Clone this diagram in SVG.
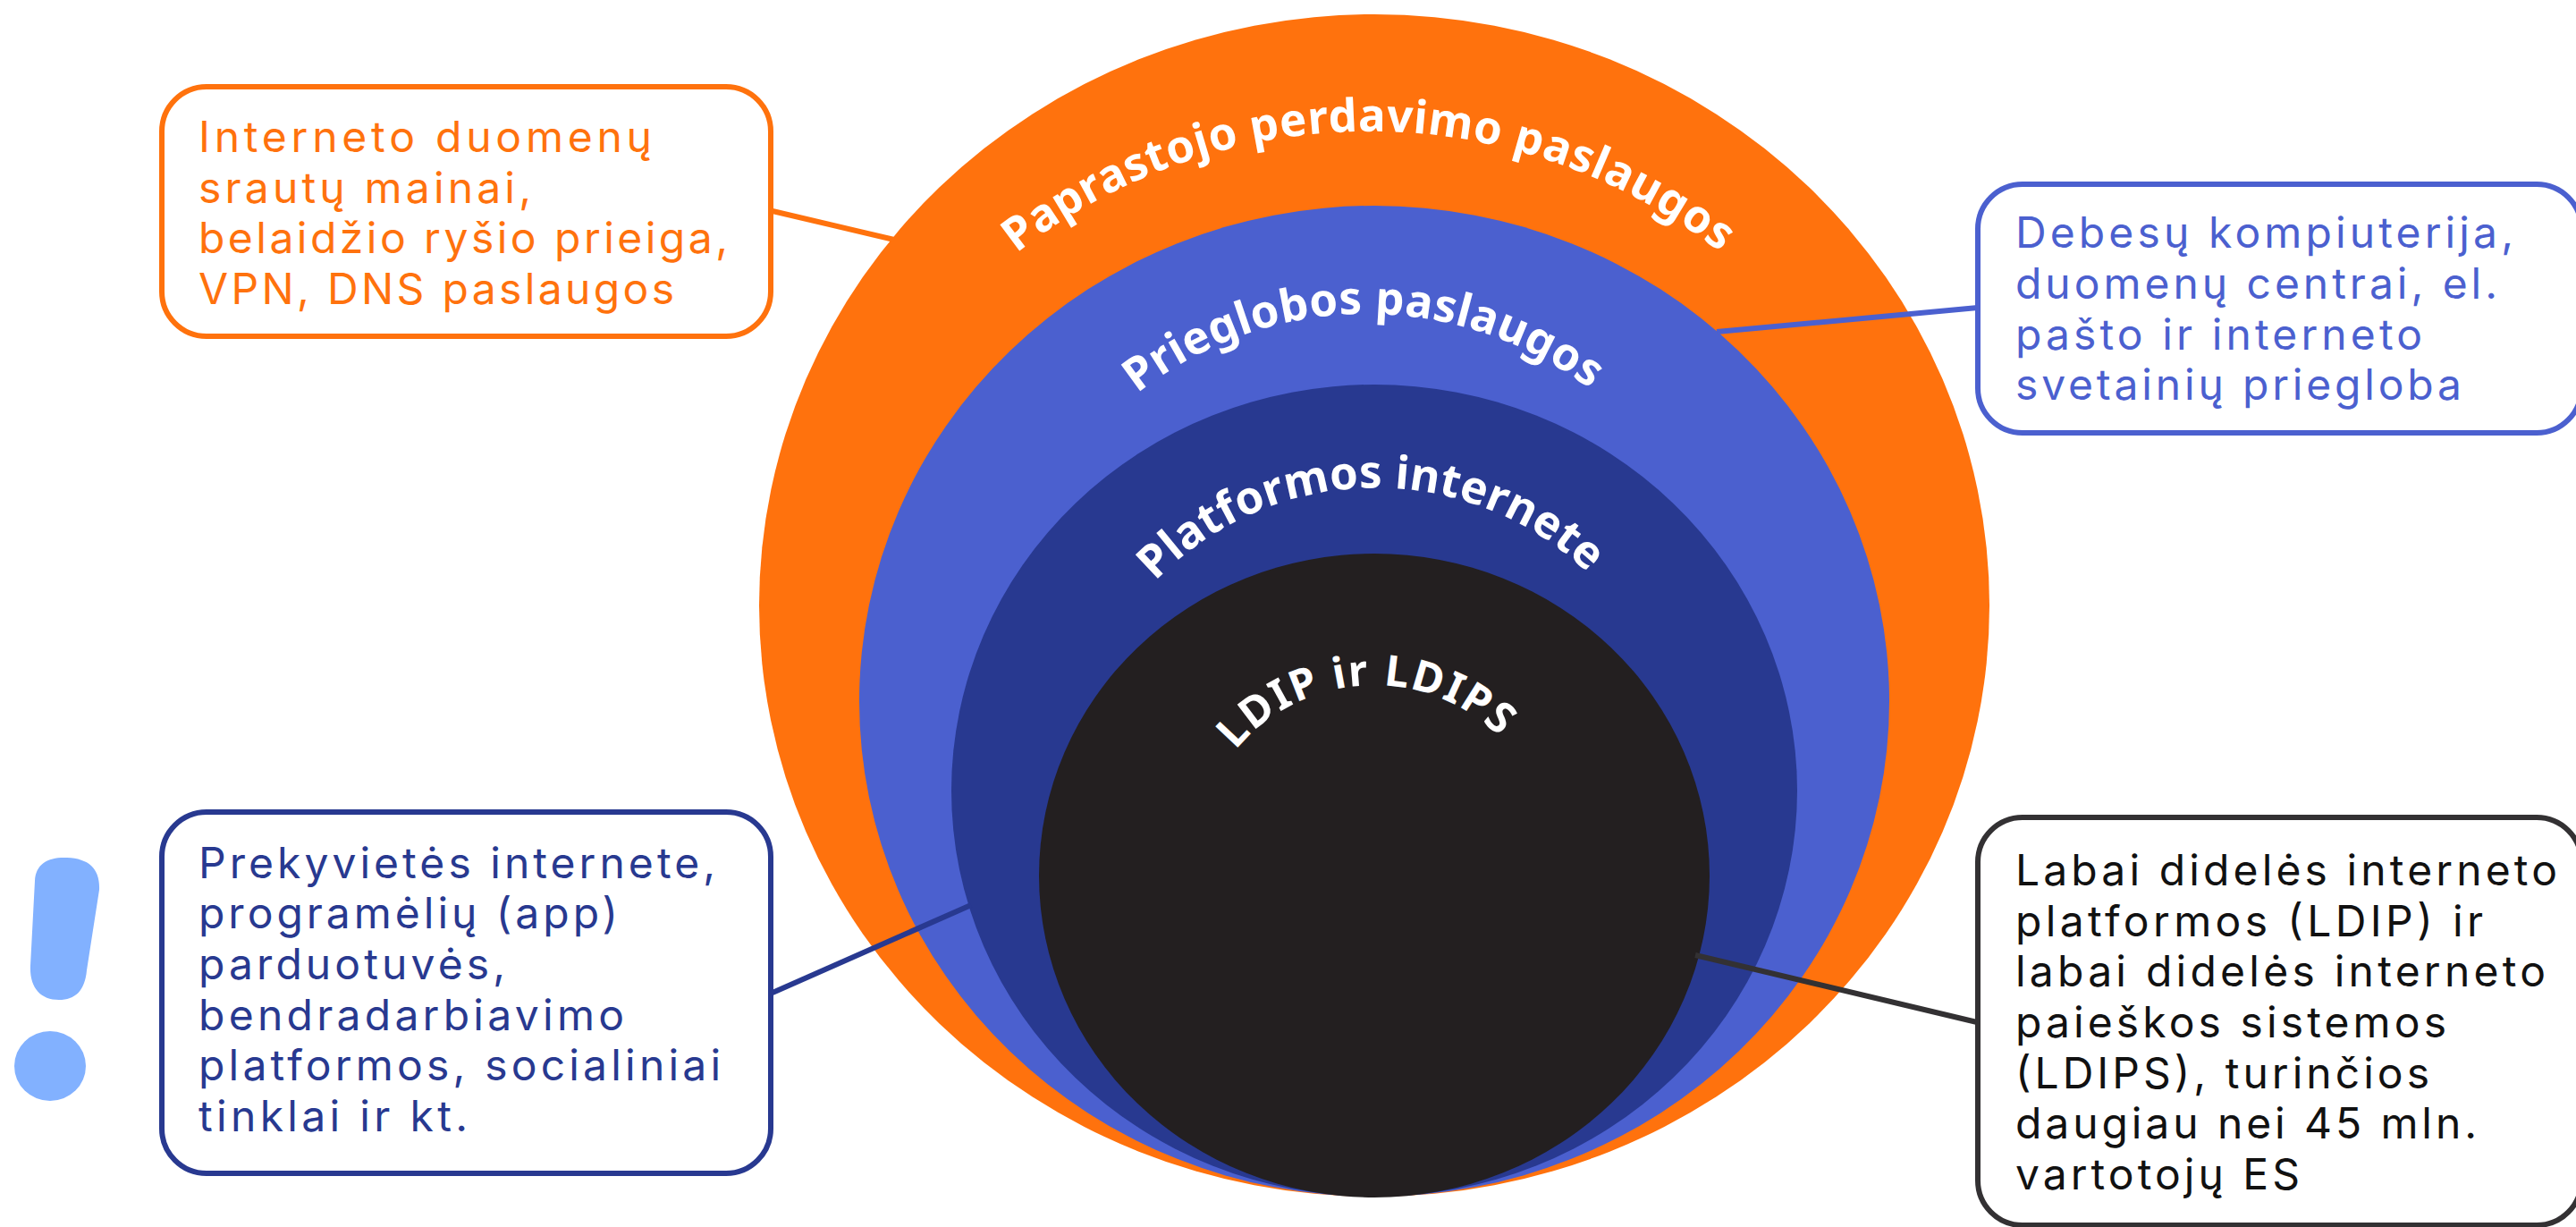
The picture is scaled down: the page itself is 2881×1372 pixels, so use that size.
<svg xmlns="http://www.w3.org/2000/svg" width="2881" height="1372" viewBox="0 0 2881 1372">
<style>
text{font-family:"Inter","Noto Sans",sans-serif}
.box{fill:#fff;stroke-width:6}
.lbl{font-size:48px;font-weight:400}
.arc{font-family:"Noto Sans","Liberation Sans",sans-serif;font-size:51px;font-weight:700;fill:#fff}
.conn{fill:none;stroke-width:6}
.o{stroke:#ff720d}.b{stroke:#4b60cf}.n{stroke:#283990}.k{stroke:#333133}
.to{fill:#ff720d}.tb{fill:#4b60cf}.tn{fill:#283990}.tk{fill:#111}
</style>
<defs>
<path id="a1" d="M1137 283A638 638 0 0 1 1925 283"/>
<path id="a2" d="M1272 440A413 413 0 0 1 1778 435"/>
<path id="a3" d="M1292 650A343 343 0 0 1 1775 640"/>
<path id="a4" d="M1382 839A200 200 0 0 1 1680 827"/>
</defs>
<rect width="2881" height="1372" fill="#fff"/>
<g id="circle-paprastojo"><ellipse cx="1537" cy="677" rx="688" ry="661" fill="#ff720d"/>
<text class="arc"><textPath href="#a1" textLength="848">Paprastojo perdavimo paslaugos</textPath></text></g>
<g id="circle-prieglobos"><ellipse cx="1537" cy="784" rx="576" ry="554" fill="#4b60cf"/>
<text class="arc"><textPath href="#a2" textLength="545">Prieglobos paslaugos</textPath></text></g>
<g id="circle-platformos"><ellipse cx="1537" cy="884" rx="473" ry="454" fill="#283990"/>
<text class="arc"><textPath href="#a3" textLength="537">Platformos internete</textPath></text></g>
<g id="circle-ldip"><ellipse cx="1537" cy="979" rx="375" ry="360" fill="#231f20"/>
<text class="arc" style="font-size:48px"><textPath href="#a4" textLength="332">LDIP ir LDIPS</textPath></text></g>
<g id="connectors">
<line class="conn o" x1="864" y1="236" x2="1000" y2="268"/>
<line class="conn b" x1="1920" y1="371" x2="2212" y2="344"/>
<line class="conn n" x1="864" y1="1110" x2="1086" y2="1012"/>
<line class="conn k" x1="1896" y1="1068" x2="2211" y2="1143"/>
</g>
<g id="box-paprastojo"><rect class="box o" x="181" y="97" width="681" height="279" rx="50"/>
<g class="lbl to">
<text x="222" y="170" textLength="507">Interneto duomenų</text>
<text x="222" y="227" textLength="372">srautų mainai,</text>
<text x="222" y="283" textLength="592">belaidžio ryšio prieiga,</text>
<text x="222" y="340" textLength="532">VPN, DNS paslaugos</text></g></g>
<g id="box-prieglobos"><rect class="box b" x="2212" y="206" width="675" height="278" rx="50"/>
<g class="lbl tb">
<text x="2254" y="277" textLength="557">Debesų kompiuterija,</text>
<text x="2254" y="334" textLength="539">duomenų centrai, el.</text>
<text x="2254" y="391" textLength="455">pašto ir interneto</text>
<text x="2254" y="447" textLength="499">svetainių priegloba</text></g></g>
<g id="box-platformos"><rect class="box n" x="181" y="908" width="681" height="404" rx="50"/>
<g class="lbl tn">
<text x="222" y="982" textLength="578">Prekyvietės internete,</text>
<text x="222" y="1038" textLength="469">programėlių (app)</text>
<text x="222" y="1095" textLength="343">parduotuvės,</text>
<text x="222" y="1152" textLength="476">bendradarbiavimo</text>
<text x="222" y="1208" textLength="584">platformos, socialiniai</text>
<text x="222" y="1265" textLength="301">tinklai ir kt.</text></g></g>
<g id="box-ldip"><rect class="box k" x="2212" y="914" width="675" height="456" rx="50"/>
<g class="lbl tk">
<text x="2254" y="990" textLength="606">Labai didelės interneto</text>
<text x="2254" y="1047" textLength="523">platformos (LDIP) ir</text>
<text x="2254" y="1103" textLength="593">labai didelės interneto</text>
<text x="2254" y="1160" textLength="482">paieškos sistemos</text>
<text x="2254" y="1217" textLength="463">(LDIPS), turinčios</text>
<text x="2254" y="1273" textLength="516">daugiau nei 45 mln.</text>
<text x="2254" y="1330" textLength="318">vartotojų ES</text></g></g>
<g id="exclamation" fill="#82b1ff">
<path d="M39 985C40 965 55 958 75 959C100 960 112 972 111 995L97 1085C95 1108 84 1118 66 1118C45 1118 33 1104 34 1080Z"/>
<ellipse cx="56" cy="1192" rx="40" ry="39"/>
</g>
</svg>
